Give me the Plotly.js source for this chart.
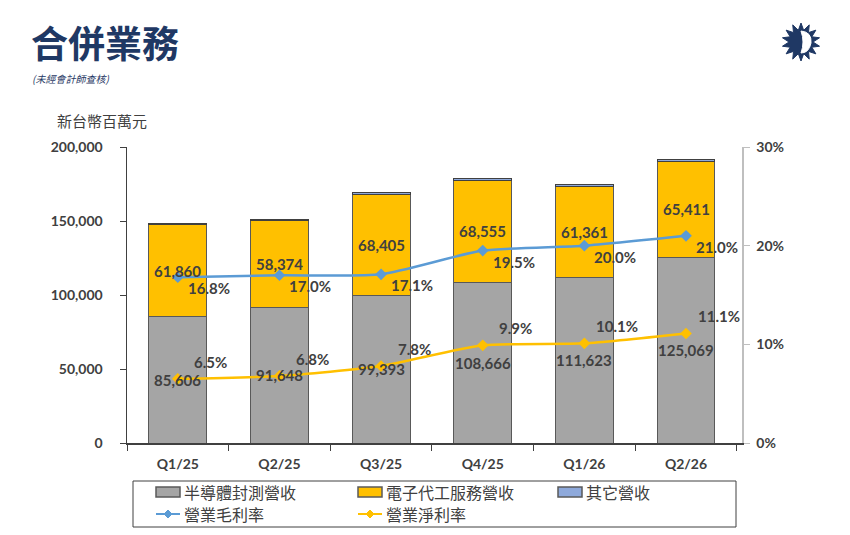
<!DOCTYPE html>
<html>
<head>
<meta charset="utf-8">
<script src="https://cdn.plot.ly/plotly-3.0.1.min.js"></script>
<style>
  html, body { margin: 0; padding: 0; background: #fff; }
  #myDiv { width: 850px; height: 535px; }
</style>
</head>
<body>
<div id="myDiv"></div>
<script>
var quarters = ['Q1/25', 'Q2/25', 'Q3/25', 'Q4/25', 'Q1/26', 'Q2/26'];
var atmRevenue = [85606, 91648, 99393, 108666, 111623, 125069];
var emsRevenue = [61860, 58374, 68405, 68555, 61361, 65411];
var otherRevenue = [1100, 900, 1500, 1400, 1500, 1300];
var grossMargin = [0.168, 0.170, 0.171, 0.195, 0.200, 0.210];
var netMargin = [0.065, 0.068, 0.078, 0.099, 0.101, 0.111];

var cjk = 'Noto Sans CJK TC, sans-serif';
var num = 'Lato, Noto Sans CJK TC, sans-serif';
var dark = '#404040';
var navy = '#1F3864';
var grayFill = '#A5A5A5', yellow = '#FFC000', blueFill = '#8EA9DB', blueLine = '#5B9BD5';

// plot area in pixels: x 127..742, y 147..443
function px(x) { return (x - 127) / 615; }
function py(y) { return (443 - y) / 296; }

function fmt(v) { return v.toLocaleString('en-US'); }
function pct(v) { return (v * 100).toFixed(1) + '%'; }

var labelFont = { family: num, size: 15, color: dark, weight: 'bold' };

var trace1 = {
  x: quarters, y: atmRevenue, name: '半導體封測營收', type: 'bar',
  marker: { color: grayFill, line: { color: '#595959', width: 1 } },
  hoverinfo: 'skip'
};
var trace2 = {
  x: quarters, y: emsRevenue, name: '電子代工服務營收', type: 'bar',
  marker: { color: yellow, line: { color: '#595959', width: 1 } },
  hoverinfo: 'skip'
};
var trace3 = {
  x: quarters, y: otherRevenue, name: '其它營收', type: 'bar',
  marker: { color: blueFill, line: { color: '#404040', width: 1 } },
  hoverinfo: 'skip'
};
var trace4 = {
  x: quarters, y: grossMargin, name: '營業毛利率', type: 'scatter',
  mode: 'lines+markers', yaxis: 'y2',
  line: { color: blueLine, width: 2.5, shape: 'spline', smoothing: 0.6 },
  marker: { symbol: 'diamond', size: 9, color: blueLine },
  hoverinfo: 'skip'
};
var trace5 = {
  x: quarters, y: netMargin, name: '營業淨利率', type: 'scatter',
  mode: 'lines+markers', yaxis: 'y2',
  line: { color: yellow, width: 2.5, shape: 'spline', smoothing: 0.6 },
  marker: { symbol: 'diamond', size: 9, color: yellow },
  hoverinfo: 'skip'
};

var data = [trace1, trace2, trace3, trace4, trace5];

var annotations = [];

// value labels as annotations so they sit above the lines
quarters.forEach(function (q, i) {
  annotations.push(
    { x: q, y: atmRevenue[i] / 2, xref: 'x', yref: 'y', text: fmt(atmRevenue[i]),
      showarrow: false, font: labelFont },
    { x: q, y: atmRevenue[i] + emsRevenue[i] / 2, xref: 'x', yref: 'y', text: fmt(emsRevenue[i]),
      showarrow: false, font: labelFont },
    { x: q, y: grossMargin[i], xref: 'x', yref: 'y2', text: pct(grossMargin[i]),
      showarrow: false, font: labelFont, xshift: 31, yshift: -11 },
    { x: q, y: netMargin[i], xref: 'x', yref: 'y2', text: pct(netMargin[i]),
      showarrow: false, font: labelFont, xshift: 33, yshift: 17 }
  );
});

// hand-drawn legend box
var shapes = [
  { type: 'rect', xref: 'paper', yref: 'paper', x0: px(133), x1: px(736), y0: py(481), y1: py(527),
    line: { color: dark, width: 1 }, fillcolor: '#fff' }
];

function boxItem(x, y, color, label) {
  shapes.push({ type: 'rect', xref: 'paper', yref: 'paper', x0: px(x), x1: px(x + 24),
    y0: py(y + 5), y1: py(y - 5), line: { color: '#595959', width: 1.5 }, fillcolor: color });
  annotations.push({ xref: 'paper', yref: 'paper', x: px(x + 26), y: py(y), xanchor: 'left',
    yanchor: 'middle', text: label, showarrow: false, font: { family: cjk, size: 16, color: dark } });
}
function lineItem(x, y, color, label) {
  shapes.push({ type: 'line', xref: 'paper', yref: 'paper', x0: px(x), x1: px(x + 24),
    y0: py(y), y1: py(y), line: { color: color, width: 2 } });
  var c = x + 12, d = 4;
  shapes.push({ type: 'path', xref: 'paper', yref: 'paper', fillcolor: color, line: { color: color, width: 1 },
    path: 'M' + px(c - d) + ',' + py(y) + ' L' + px(c) + ',' + py(y - d) + ' L' + px(c + d) + ',' + py(y) +
          ' L' + px(c) + ',' + py(y + d) + ' Z' });
  annotations.push({ xref: 'paper', yref: 'paper', x: px(x + 26), y: py(y), xanchor: 'left',
    yanchor: 'middle', text: label, showarrow: false, font: { family: cjk, size: 16, color: dark } });
}
boxItem(156, 492, grayFill, trace1.name);
boxItem(358, 492, yellow, trace2.name);
boxItem(558, 492, blueFill, trace3.name);
lineItem(156, 514, blueLine, trace4.name);
lineItem(358, 514, yellow, trace5.name);

// sun logo
var sun = [];
var cx = 801, cy = 42, spikes = 14;
for (var i = 0; i < spikes * 2; i++) {
  var r = i % 2 === 0 ? 19 : 12;
  var a = Math.PI * i / spikes - Math.PI / 2;
  sun.push((i === 0 ? 'M' : 'L') + px(cx + r * Math.cos(a)) + ',' + py(cy + r * Math.sin(a)));
}
shapes.push({ type: 'path', xref: 'paper', yref: 'paper', path: sun.join(' ') + ' Z',
  fillcolor: navy, line: { color: navy, width: 1 } });
shapes.push({ type: 'path', xref: 'paper', yref: 'paper', fillcolor: '#fff', line: { color: '#fff', width: 1 },
  path: 'M' + px(801) + ',' + py(31) + ' Q' + px(812) + ',' + py(32) + ' ' + px(811) + ',' + py(43) +
        ' Q' + px(809) + ',' + py(53) + ' ' + px(801) + ',' + py(53) +
        ' Q' + px(805) + ',' + py(42) + ' ' + px(801) + ',' + py(31) + ' Z' });

annotations.push(
  { xref: 'paper', yref: 'paper', x: px(29), y: py(42), xanchor: 'left', yanchor: 'middle',
    text: '<b>合併業務</b>', showarrow: false, font: { family: cjk, size: 37, color: navy } },
  { xref: 'paper', yref: 'paper', x: px(30), y: py(78), xanchor: 'left', yanchor: 'middle',
    text: '<i>(未經會計師查核)</i>', showarrow: false, font: { family: cjk, size: 10, color: navy } },
  { xref: 'paper', yref: 'paper', x: px(55), y: py(120), xanchor: 'left', yanchor: 'middle',
    text: '新台幣百萬元', showarrow: false, font: { family: cjk, size: 15, color: dark } }
);

var layout = {
  width: 850, height: 535,
  margin: { l: 127, r: 108, t: 147, b: 92 },
  paper_bgcolor: '#fff', plot_bgcolor: '#fff',
  barmode: 'stack', bargap: 0.43,
  showlegend: false,
  font: { family: cjk, color: dark },
  xaxis: {
    type: 'category', tickson: 'boundaries', ticks: 'outside', ticklen: 6,
    tickcolor: dark, showline: true, linecolor: dark, linewidth: 1.5,
    tickfont: { family: num, size: 14, color: dark, weight: 'bold' },
    ticklabelstandoff: 8, fixedrange: true
  },
  yaxis: {
    range: [0, 200000], dtick: 50000, tickformat: ',d',
    showgrid: false, zeroline: false, showline: true, linecolor: dark, linewidth: 1.5,
    ticks: 'outside', ticklen: 6, tickcolor: dark,
    tickfont: { family: num, size: 14, color: dark, weight: 'bold' },
    ticklabelstandoff: 14
  },
  yaxis2: {
    overlaying: 'y', side: 'right', range: [0, 0.3], dtick: 0.1, tickformat: '.0%',
    showgrid: false, zeroline: false, showline: true, linecolor: '#BFBFBF', linewidth: 1.5,
    ticks: 'outside', ticklen: 6, tickcolor: '#BFBFBF',
    tickfont: { family: num, size: 14, color: dark, weight: 'bold' },
    ticklabelstandoff: 4
  },
  shapes: shapes,
  annotations: annotations
};

Plotly.newPlot('myDiv', data, layout, { staticPlot: true });
</script>
</body>
</html>
